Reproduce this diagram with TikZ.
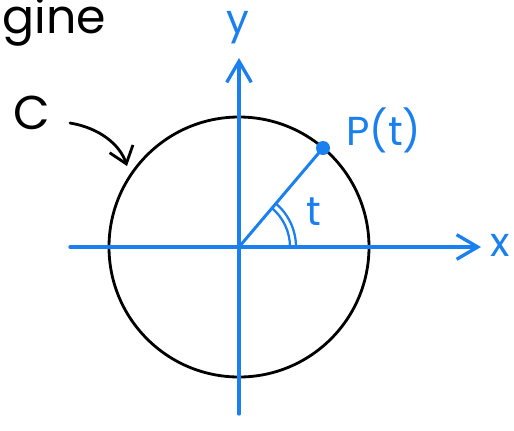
\documentclass[tikz,border=0pt]{standalone}
\usepackage{fontspec}
\setmainfont{Poppins}
\usetikzlibrary{arrows.meta}
\definecolor{axblue}{HTML}{1A80F0}
\begin{document}
\begin{tikzpicture}[x=0.02cm,y=-0.02cm,
  axis/.style={axblue,line width=1.9pt,line cap=round,-{Straight Barb[length=12pt,width=14pt,line width=1.9pt]}},
  lbl/.style={axblue,font=\fontsize{23}{27}\selectfont,inner sep=0pt},
  blk/.style={black,font=\fontsize{27}{31}\selectfont,inner sep=0pt}]
\useasboundingbox (0,0) rectangle (514,430);
\coordinate (O) at (239,247);
\coordinate (xl) at (70,247);
\coordinate (xr) at (481,247);
\coordinate (yb) at (239,414);
\coordinate (yt) at (239,58);
\coordinate (P) at (323,148);
\draw[black,line width=1.6pt] (O) circle[radius=130];
\draw[axis] (xl) -- (xr);
\draw[axis] (yb) -- (yt);
\draw[axblue,line width=1.7pt] (O) -- (P);
\fill[axblue] (P) circle[radius=7];
\draw[axblue,line width=1.3pt] ([shift={(0:51)}]O) arc[start angle=0,end angle=-49.7,radius=51];
\draw[axblue,line width=1.3pt] ([shift={(0:57)}]O) arc[start angle=0,end angle=-49.7,radius=57];
\node[lbl] (ylab) at (238,28) {y};
\node[lbl] (xlab) at (500,245) {x};
\node[lbl,anchor=west] (plab) at (346,130) {P(t)};
\node[lbl] (tlab) at (314,212) {t};
\node[blk] (clab) at (32,113) {C};
\node[blk,anchor=west] (glab) at (2,22) {gine};
\coordinate (ca) at (70,123);
\coordinate (cb) at (127,166);
\draw[black,line width=1.6pt,line cap=round,-{Straight Barb[length=9pt,width=14pt,line width=1.6pt]}] (ca) .. controls (100,128) and (120,145) .. (cb);
\end{tikzpicture}
\end{document}
